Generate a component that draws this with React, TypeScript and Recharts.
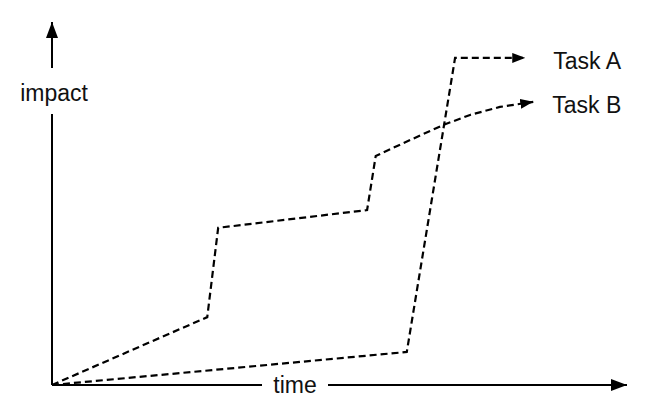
import React from "react";
import { LineChart, Line, XAxis, YAxis } from "recharts";

// values, axes run 0..100 in both directions
const taskATime = [0, 61.7, 70.1, 82.3];
const taskAImpact = [0, 9.1, 90.1, 90.1];
const taskBTime = [0, 27, 28.9, 54.8, 56.3, 62.3, 68, 72.7, 77.9, 83.7];
const taskBImpact = [0, 18.7, 43.3, 48.2, 63.1, 67.5, 71.6, 74.4, 76.6, 78];

const taskA = taskATime.map((t, i) => ({ time: t, impact: taskAImpact[i] }));
const taskB = taskBTime.map((t, i) => ({ time: t, impact: taskBImpact[i] }));

const FONT = '"Liberation Sans", Arial, Helvetica, sans-serif';

// eslint-disable-next-line @typescript-eslint/no-explicit-any
const endLabel = (name: string, count: number, dx: number, dy: number) => (props: any) => {
  if (props.index !== count - 1) return null;
  return (
    <text x={props.x + dx} y={props.y + dy} fontSize={23} fontFamily={FONT} fill="#111">
      {name}
    </text>
  );
};

// eslint-disable-next-line @typescript-eslint/no-explicit-any
const TimeLabel = (props: any) => {
  const vb = props.viewBox || { x: 52, y: 385, width: 575 };
  const cx = 295;
  return (
    <g>
      <rect x={cx - 33} y={vb.y - 6} width={66} height={12} fill="#fff" />
      <text x={cx} y={vb.y + 8} textAnchor="middle" fontSize={23} fontFamily={FONT} fill="#111">
        time
      </text>
    </g>
  );
};

// eslint-disable-next-line @typescript-eslint/no-explicit-any
const ImpactLabel = (props: any) => {
  const vb = props.viewBox || { x: 0, y: 22, width: 52 };
  const x = vb.x + (vb.width || 0);
  return (
    <g>
      <rect x={x - 6} y={68} width={12} height={46} fill="#fff" />
      <text x={x + 2} y={101} textAnchor="middle" fontSize={23} fontFamily={FONT} fill="#111">
        impact
      </text>
    </g>
  );
};

export default function App() {
  return (
    <div style={{ position: "absolute", left: 0, top: 0, width: 650, height: 410, background: "#fff" }}>
      <LineChart width={650} height={410} margin={{ top: 22, right: 23, bottom: 0, left: 0 }}>
        <defs>
          <marker id="axisHead" viewBox="0 0 16 12" refX={16} refY={6} markerWidth={16} markerHeight={12}
            markerUnits="userSpaceOnUse" orient="auto-start-reverse">
            <path d="M0,0 L16,6 L0,12 z" fill="#000" />
          </marker>
          <marker id="lineHead" viewBox="0 0 13 10" refX={13} refY={5} markerWidth={13} markerHeight={10}
            markerUnits="userSpaceOnUse" orient="auto">
            <path d="M0,0 L13,5 L0,10 z" fill="#000" />
          </marker>
        </defs>
        <XAxis
          type="number"
          dataKey="time"
          domain={[0, 100]}
          height={25}
          tick={false}
          tickLine={false}
          axisLine={{ stroke: "#000", strokeWidth: 2, markerEnd: "url(#axisHead)" }}
          label={<TimeLabel />}
        />
        <YAxis
          type="number"
          dataKey="impact"
          domain={[0, 100]}
          width={52}
          tick={false}
          tickLine={false}
          axisLine={{ stroke: "#000", strokeWidth: 2, markerStart: "url(#axisHead)" }}
          label={<ImpactLabel />}
        />
        <Line
          data={taskA}
          dataKey="impact"
          type="linear"
          stroke="#000"
          strokeWidth={2.2}
          strokeDasharray="7 4"
          dot={false}
          activeDot={false}
          markerEnd="url(#lineHead)"
          label={endLabel("Task A", taskA.length, 28, 11)}
          isAnimationActive={false}
        />
        <Line
          data={taskB}
          dataKey="impact"
          type="linear"
          stroke="#000"
          strokeWidth={2.2}
          strokeDasharray="7 4"
          dot={false}
          activeDot={false}
          markerEnd="url(#lineHead)"
          label={endLabel("Task B", taskB.length, 19, 11)}
          isAnimationActive={false}
        />
      </LineChart>
    </div>
  );
}
